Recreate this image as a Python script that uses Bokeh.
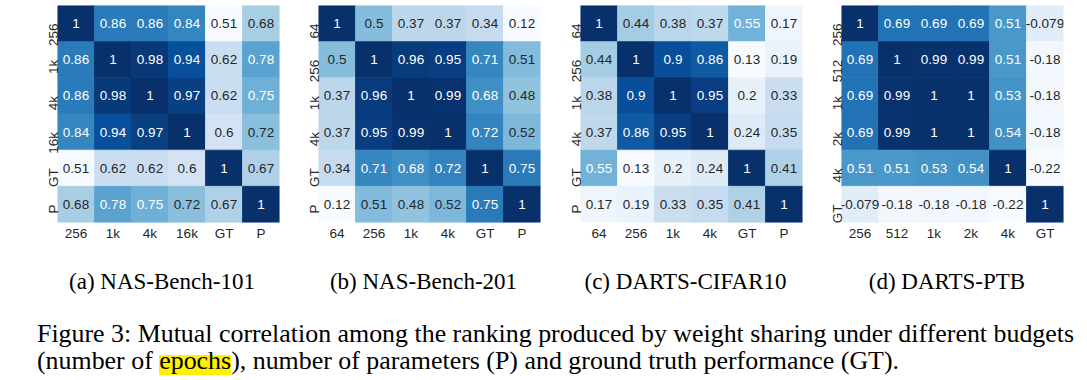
import math
from bokeh.plotting import figure
from bokeh.models import ColumnDataSource, FactorRange, Div
from bokeh.layouts import row, column
from bokeh.embed import file_html
from bokeh.resources import INLINE
from bokeh.core.properties import value

# ---------------- data ----------------
labels_a = ["256", "1k", "4k", "16k", "GT", "P"]
corr_a = [
    [1, 0.86, 0.86, 0.84, 0.51, 0.68],
    [0.86, 1, 0.98, 0.94, 0.62, 0.78],
    [0.86, 0.98, 1, 0.97, 0.62, 0.75],
    [0.84, 0.94, 0.97, 1, 0.6, 0.72],
    [0.51, 0.62, 0.62, 0.6, 1, 0.67],
    [0.68, 0.78, 0.75, 0.72, 0.67, 1],
]
labels_b = ["64", "256", "1k", "4k", "GT", "P"]
corr_b = [
    [1, 0.5, 0.37, 0.37, 0.34, 0.12],
    [0.5, 1, 0.96, 0.95, 0.71, 0.51],
    [0.37, 0.96, 1, 0.99, 0.68, 0.48],
    [0.37, 0.95, 0.99, 1, 0.72, 0.52],
    [0.34, 0.71, 0.68, 0.72, 1, 0.75],
    [0.12, 0.51, 0.48, 0.52, 0.75, 1],
]
labels_c = ["64", "256", "1k", "4k", "GT", "P"]
corr_c = [
    [1, 0.44, 0.38, 0.37, 0.55, 0.17],
    [0.44, 1, 0.9, 0.86, 0.13, 0.19],
    [0.38, 0.9, 1, 0.95, 0.2, 0.33],
    [0.37, 0.86, 0.95, 1, 0.24, 0.35],
    [0.55, 0.13, 0.2, 0.24, 1, 0.41],
    [0.17, 0.19, 0.33, 0.35, 0.41, 1],
]
labels_d = ["256", "512", "1k", "2k", "4k", "GT"]
corr_d = [
    [1, 0.69, 0.69, 0.69, 0.51, -0.079],
    [0.69, 1, 0.99, 0.99, 0.51, -0.18],
    [0.69, 0.99, 1, 1, 0.53, -0.18],
    [0.69, 0.99, 1, 1, 0.54, -0.18],
    [0.51, 0.51, 0.53, 0.54, 1, -0.22],
    [-0.079, -0.18, -0.18, -0.18, -0.22, 1],
]
subcaptions = ["(a) NAS-Bench-101", "(b) NAS-Bench-201", "(c) DARTS-CIFAR10", "(d) DARTS-PTB"]
caption_line1 = "Figure 3: Mutual correlation among the ranking produced by weight sharing under different budgets"
caption_line2_pre = "(number of "
caption_highlight = "epochs"
caption_line2_post = "), number of parameters (P) and ground truth performance (GT)."

# ---------------- colour map (matplotlib "Blues") ----------------
BLUES = ["#f7fbff", "#deebf7", "#c6dbef", "#9ecae1", "#6baed6",
         "#4292c6", "#2171b5", "#08519c", "#08306b"]


def _rgb(h):
    h = h.lstrip("#")
    return [int(h[i:i + 2], 16) / 255.0 for i in (0, 2, 4)]


def blues(t):
    i = min(max(int(t * 256), 0), 255)
    t = i / 255.0
    pos = t * 8
    k = min(int(pos), 7)
    f = pos - k
    c0, c1 = _rgb(BLUES[k]), _rgb(BLUES[k + 1])
    return [c0[j] + (c1[j] - c0[j]) * f for j in range(3)]


def to_hex(c):
    return "#%02x%02x%02x" % tuple(int(round(v * 255)) for v in c)


def luminance(c):
    lin = [v / 12.92 if v <= 0.03928 else ((v + 0.055) / 1.055) ** 2.4 for v in c]
    return 0.2126 * lin[0] + 0.7152 * lin[1] + 0.0722 * lin[2]


def heat(labels, corr, left, right):
    flat = [v for r in corr for v in r]
    vmin, vmax = min(flat), max(flat)
    xs, ys, cols, txt, tcol = [], [], [], [], []
    for i, r in enumerate(corr):
        for j, v in enumerate(r):
            c = blues((v - vmin) / (vmax - vmin))
            xs.append(labels[j])
            ys.append(labels[i])
            cols.append(to_hex(c))
            txt.append(format(v, ".2g"))
            tcol.append("#262626" if luminance(c) > 0.408 else "#ffffff")
    src = ColumnDataSource(dict(x=xs, y=ys, color=cols, text=txt, tcolor=tcol))
    p = figure(x_range=FactorRange(*labels), y_range=FactorRange(*labels[::-1]),
               frame_width=222, frame_height=217,
               min_border_left=left, min_border_right=right,
               min_border_top=5, min_border_bottom=20,
               output_backend="svg", toolbar_location=None, tools="")
    p.rect(x="x", y="y", width=1, height=1, source=src,
           fill_color="color", line_color="color", line_width=0.8)
    p.text(x="x", y="y", text="text", source=src, text_color="tcolor",
           text_align="center", text_baseline="middle",
           text_font=value("Liberation Sans"), text_font_size="13.5px")
    p.xgrid.visible = False
    p.ygrid.visible = False
    p.outline_line_color = None
    p.background_fill_color = "white"
    p.border_fill_color = "white"
    for ax in (p.xaxis[0], p.yaxis[0]):
        ax.axis_line_color = None
        ax.major_tick_line_color = None
        ax.minor_tick_line_color = None
        ax.major_tick_out = 0
        ax.major_tick_in = 0
        ax.major_label_text_font = "Liberation Sans"
        ax.major_label_text_font_size = "13.5px"
        ax.major_label_text_color = "#262626"
    p.yaxis.major_label_orientation = math.pi / 2
    p.xaxis.major_label_standoff = 3
    p.yaxis.major_label_standoff = 4
    return p


pa = heat(labels_a, corr_a, 57, 13)
pb = heat(labels_b, corr_b, 26, 17)
pc = heat(labels_c, corr_c, 23, 15)
pd_ = heat(labels_d, corr_d, 24, 8)

# ---------------- captions ----------------
sub_centers = [157, 418.5, 680.5, 942]
parts = []
for s, cx in zip(subcaptions, sub_centers):
    parts.append(
        f'<div style="position:absolute;left:{cx}px;top:21.7px;transform:translateX(-50%);'
        f'white-space:nowrap;font-size:23px;line-height:23px;">{s}</div>')
parts.append(
    f'<div style="position:absolute;left:32px;top:73.2px;white-space:nowrap;'
    f'font-size:25.9px;line-height:25.9px;">{caption_line1}</div>')
parts.append(
    f'<div style="position:absolute;left:32px;top:99.5px;white-space:nowrap;'
    f'font-size:25.9px;line-height:25.9px;">{caption_line2_pre}'
    f'<span style="background:linear-gradient(to bottom, rgba(0,0,0,0) 9px, #fff200 9px);">'
    f'{caption_highlight}</span>{caption_line2_post}</div>')
html = ('<div style="position:relative;width:1071px;height:122px;'
        'font-family:\'Liberation Serif\',serif;color:#000;">' + "".join(parts) + '</div>')
cap = Div(text=html, width=1071, height=122, styles={"overflow": "visible"})

layout = column(row(pa, pb, pc, pd_, spacing=0), cap, spacing=0)

open("out.html", "w").write(file_html(layout, INLINE))
